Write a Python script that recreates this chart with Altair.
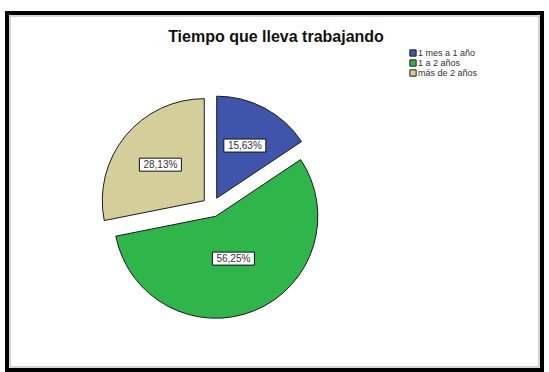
import altair as alt
import pandas as pd

categories = ["1 mes a 1 año", "1 a 2 años", "más de 2 años"]
percentages = [15.63, 56.25, 28.13]
labels = ["15,63%", "56,25%", "28,13%"]
colors = ["#3E55AB", "#2FB64A", "#D4CF9A"]
title_text = "Tiempo que lleva trabajando"

W, H = 549, 372
CX, CY, R, EXPLODE = 212, 207, 102, 10
LABEL_R = 27
BOX_W, BOX_H = 42, 13
FONT = "Liberation Sans"
LEG_X, LEG_Y, LEG_STEP = 413, 53, 10

df = pd.DataFrame({"cat": categories, "pct": percentages, "label": labels,
                   "order": list(range(len(categories)))})

color_scale = alt.Scale(domain=categories, range=colors)

base = (
    alt.Chart(df)
    .transform_window(cum="sum(pct)", sort=[alt.SortField("order")], frame=[None, 0])
    .transform_joinaggregate(total="sum(pct)")
    .transform_calculate(a1="datum.cum / datum.total * 2 * PI")
    .transform_calculate(a0="(datum.cum - datum.pct) / datum.total * 2 * PI")
    .transform_calculate(mid="(datum.a0 + datum.a1) / 2")
    .transform_calculate(span="datum.a1 - datum.a0")
    .transform_calculate(lr=f"{LABEL_R} + 2 * {R} * sin(datum.span / 2) / (3 * datum.span)")
    .transform_calculate(px=f"{CX} + {EXPLODE} * sin(datum.mid)")
    .transform_calculate(py=f"{CY} - {EXPLODE} * cos(datum.mid)")
    .transform_calculate(lx="datum.px + datum.lr * sin(datum.mid)")
    .transform_calculate(ly="datum.py - datum.lr * cos(datum.mid)")
    .transform_calculate(bx0=f"datum.lx - {BOX_W/2}", bx1=f"datum.lx + {BOX_W/2}")
    .transform_calculate(by0=f"datum.ly - {BOX_H/2}", by1=f"datum.ly + {BOX_H/2}")
    .transform_calculate(legy=f"{LEG_Y} + datum.order * {LEG_STEP}")
)

arcs = base.mark_arc(radius=R, stroke="#1a1a1a", strokeWidth=1).encode(
    x=alt.X("px:Q", scale=None, axis=None),
    y=alt.Y("py:Q", scale=None, axis=None),
    theta=alt.Theta("a0:Q", scale=None),
    theta2="a1:Q",
    color=alt.Color("cat:N", scale=color_scale, legend=None),
)

boxes = base.mark_rect(fill="white", stroke="#111", strokeWidth=1).encode(
    x=alt.X("bx0:Q", scale=None, axis=None), x2="bx1:Q",
    y=alt.Y("by0:Q", scale=None, axis=None), y2="by1:Q",
)

texts = base.mark_text(fontSize=10, font=FONT, color="#333", baseline="middle", align="center").encode(
    x=alt.X("lx:Q", scale=None, axis=None),
    y=alt.Y("ly:Q", scale=None, axis=None),
    text="label:N",
)

leg_sym = base.mark_square(size=40, opacity=1, stroke="#222", strokeWidth=1).encode(
    x=alt.value(LEG_X),
    y=alt.Y("legy:Q", scale=None, axis=None),
    color=alt.Color("cat:N", scale=color_scale, legend=None),
)
leg_txt = base.mark_text(fontSize=9, font=FONT, color="#333", baseline="middle", align="left").encode(
    x=alt.value(LEG_X + 5),
    y=alt.Y("legy:Q", scale=None, axis=None),
    text="cat:N",
)

one = alt.Chart(pd.DataFrame({"t": [title_text]}))

frame = one.mark_rect(fill="transparent", stroke="#000", strokeWidth=4).encode(
    x=alt.value(7), x2=alt.value(542), y=alt.value(13), y2=alt.value(370)
)
inner = one.mark_rect(fill="transparent", stroke="#aaa", strokeWidth=1).encode(
    x=alt.value(10), x2=alt.value(539), y=alt.value(16), y2=alt.value(367)
)

title = one.mark_text(fontSize=16, fontWeight="bold", font=FONT, color="#111",
                      baseline="middle", align="center").encode(
    x=alt.value(276), y=alt.value(37), text="t:N"
)

chart = (
    alt.layer(frame, inner, arcs, boxes, texts, leg_sym, leg_txt, title)
    .properties(width=W, height=H, padding=0, autosize=alt.AutoSizeParams(type="none"),
                background="white")
    .configure_view(stroke=None)
)

chart.save("out.html", embed_options={"renderer": "svg", "actions": False})
